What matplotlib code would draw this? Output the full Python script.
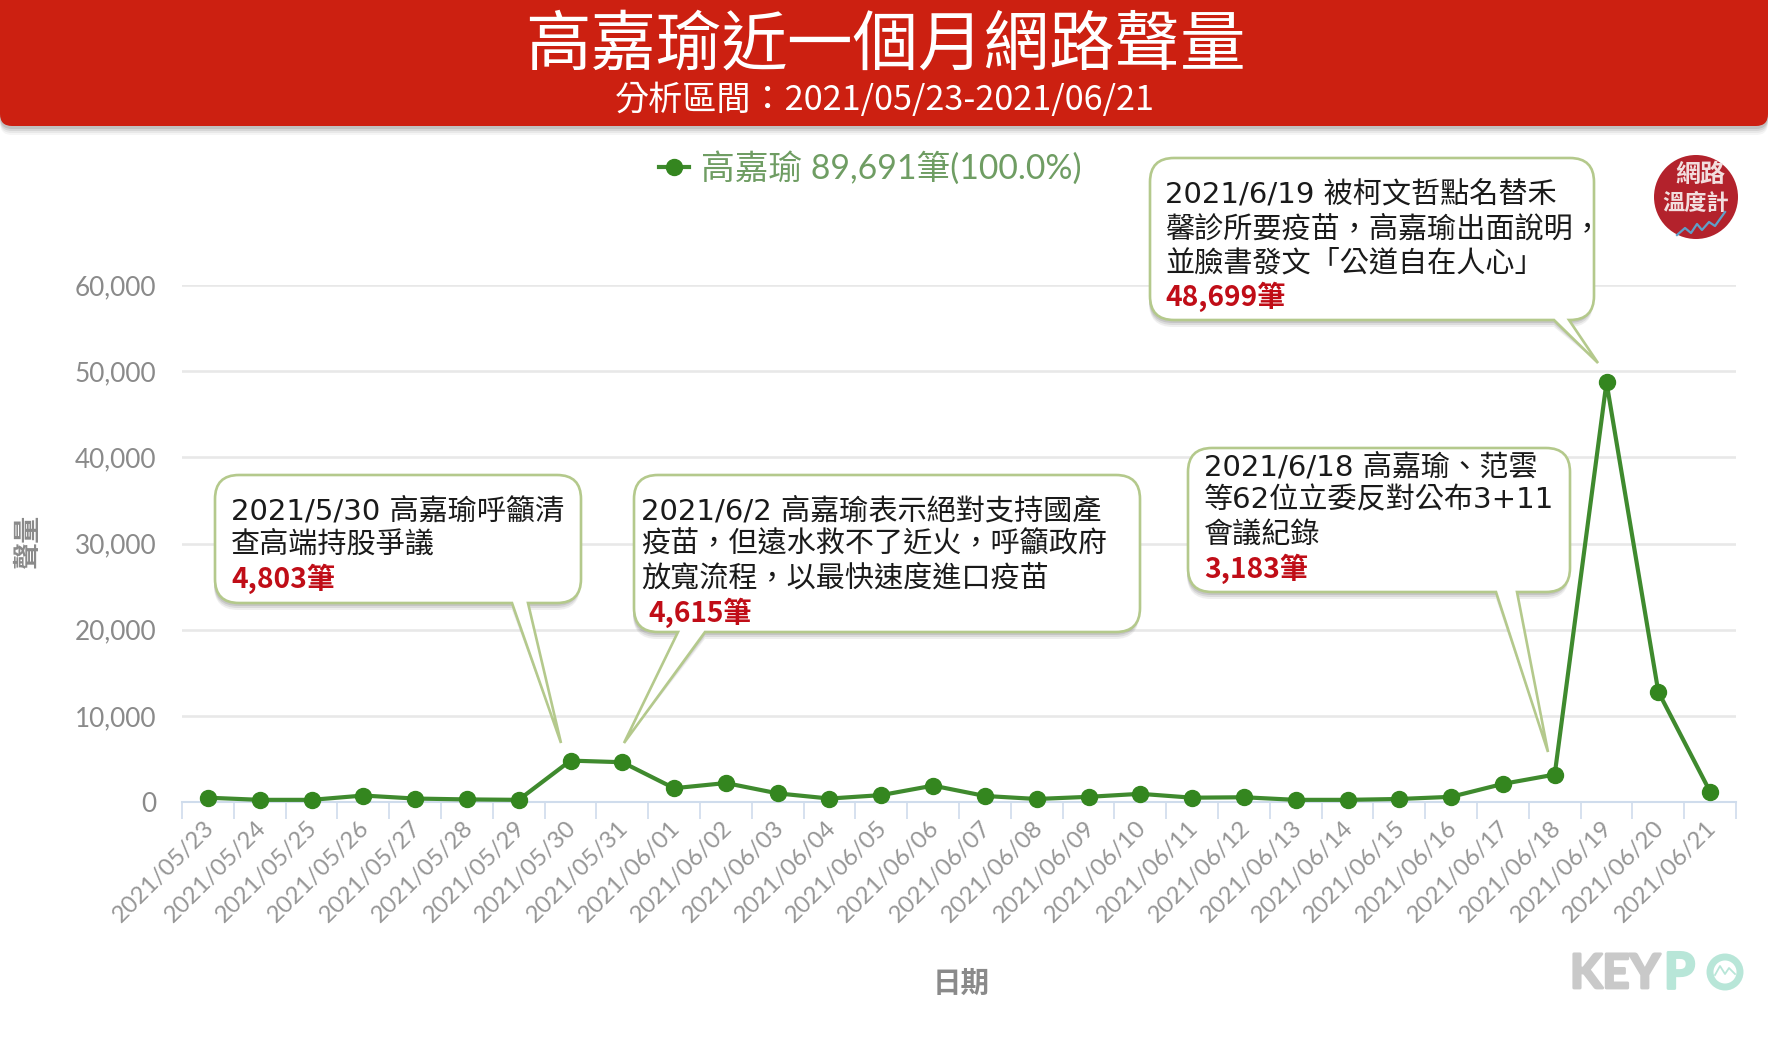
import matplotlib
matplotlib.use("Agg")
import matplotlib.pyplot as plt
import matplotlib.patheffects as pe
from matplotlib.path import Path
from matplotlib.patches import PathPatch, FancyBboxPatch, Circle

plt.rcParams['font.family'] = ['Noto Sans CJK TC', 'DejaVu Sans']

W, H = 1768, 1038
CJK = ['Noto Sans CJK TC', 'DejaVu Sans']
NOTE = ['DejaVu Sans', 'Noto Sans CJK TC']
CHART = ['Lato', 'Noto Sans CJK TC']

title = "高嘉瑜近一個月網路聲量"
subtitle = "分析區間：2021/05/23-2021/06/21"
series_label = "高嘉瑜 89,691筆(100.0%)"
x_title = "日期"
y_title = "聲量"

dates = ["2021/05/23", "2021/05/24", "2021/05/25", "2021/05/26", "2021/05/27",
         "2021/05/28", "2021/05/29", "2021/05/30", "2021/05/31", "2021/06/01",
         "2021/06/02", "2021/06/03", "2021/06/04", "2021/06/05", "2021/06/06",
         "2021/06/07", "2021/06/08", "2021/06/09", "2021/06/10", "2021/06/11",
         "2021/06/12", "2021/06/13", "2021/06/14", "2021/06/15", "2021/06/16",
         "2021/06/17", "2021/06/18", "2021/06/19", "2021/06/20", "2021/06/21"]
counts = [500, 250, 250, 750, 400, 300, 250, 4803, 4615, 1600,
          2200, 1000, 400, 800, 1900, 700, 350, 600, 950, 500,
          550, 250, 250, 350, 600, 2100, 3183, 48699, 12800, 1200]
y_ticks = [0, 10000, 20000, 30000, 40000, 50000, 60000]

note1_lines = ["2021/5/30 高嘉瑜呼籲清", "查高端持股爭議"]
note1_count = "4,803筆"
note2_lines = ["2021/6/2 高嘉瑜表示絕對支持國產", "疫苗，但遠水救不了近火，呼籲政府", "放寬流程，以最快速度進口疫苗"]
note2_count = "4,615筆"
note3_lines = ["2021/6/18 高嘉瑜、范雲", "等62位立委反對公布3+11", "會議紀錄"]
note3_count = "3,183筆"
note4_lines = ["2021/6/19 被柯文哲點名替禾", "馨診所要疫苗，高嘉瑜出面說明，", "並臉書發文「公道自在人心」"]
note4_count = "48,699筆"

fig = plt.figure(figsize=(W / 100, H / 100), dpi=100, facecolor='white')

# ---------- chart ----------
L, R, T, B = 182, 1736, 285, 802
ax = fig.add_axes([L / W, 1 - B / H, (R - L) / W, (B - T) / H])
xs = list(range(len(dates)))
ax.set_xlim(-0.5, len(dates) - 0.5)
ax.set_ylim(0, 60000)
ax.set_yticks(y_ticks)
ax.set_yticklabels([f"{v:,}" for v in y_ticks], family=CHART, fontsize=18.8, color='#8a8a8a')
ax.set_xticks([i - 0.5 for i in range(len(dates) + 1)])
ax.set_xticklabels([])
ax.tick_params(axis='x', length=12, width=1.2, color='#cfdcec')
ax.tick_params(axis='y', length=0, pad=18.5)
ax.grid(axis='y', color='#e8e8e8', lw=1.9)
ax.grid(axis='x', visible=False)
ax.set_axisbelow(True)
for s in ['top', 'right', 'left']:
    ax.spines[s].set_visible(False)
ax.spines['bottom'].set_color('#cfdcec')
ax.spines['bottom'].set_linewidth(1.5)
line, = ax.plot(xs, counts, color='#3f8a2e', lw=3, marker='o', ms=11.5,
                mfc='#34861f', mec='#34861f', clip_on=False, zorder=3)

for x, d in zip(xs, dates):
    ax.annotate(d, xy=(x, 0), xycoords='data', xytext=(2, -16), textcoords='offset points',
                rotation=45, rotation_mode='anchor', ha='right', va='center',
                family=CHART, fontsize=17.3, color='#969696')

leg = ax.legend([line], [series_label], loc='center left', frameon=False,
                bbox_to_anchor=(629 / W, 1 - 168 / H), bbox_transform=fig.transFigure,
                prop={'family': CHART, 'size': 24.3}, labelcolor='#6f9d63',
                handlelength=0.88, handletextpad=0.35, markerscale=1.0)

# ---------- overlay in pixel coordinates ----------
ov = fig.add_axes([0, 0, 1, 1], facecolor='none')
ov.set_xlim(0, W)
ov.set_ylim(H, 0)
ov.axis('off')

# header band
for off, a in [(9, .06), (7, .08), (5, .12), (3, .16)]:
    ov.add_patch(FancyBboxPatch((0, -40), W, 166 + off, boxstyle="round,pad=0,rounding_size=12",
                                fc='#555555', ec='none', alpha=a, zorder=1))
ov.add_patch(FancyBboxPatch((0, -40), W, 166, boxstyle="round,pad=0,rounding_size=12",
                            fc='#cc2011', ec='none', zorder=2))
ov.text(885, 46, title, ha='center', va='center', color='white', fontsize=47.2, family=CJK, zorder=3)
ov.text(885, 101, subtitle, ha='center', va='center', color='white', fontsize=24.6, family=CJK, zorder=3)

ov.text(28, 541, y_title, rotation=90, ha='center', va='center', color='#8a8a8a',
        fontsize=19.5, fontweight='bold', family=CJK)
ov.text(961, 984, x_title, ha='center', va='center', color='#8a8a8a',
        fontsize=20.5, fontweight='bold', family=CJK)


def callout_path(x0, y0, x1, y1, t0, t1, tip, r=24):
    M, LN, C, Z = Path.MOVETO, Path.LINETO, Path.CURVE3, Path.CLOSEPOLY
    v = [(x0 + r, y0), (x1 - r, y0), (x1, y0), (x1, y0 + r), (x1, y1 - r), (x1, y1), (x1 - r, y1),
         (t1, y1), tip, (t0, y1), (x0 + r, y1), (x0, y1), (x0, y1 - r), (x0, y0 + r), (x0, y0),
         (x0 + r, y0), (x0 + r, y0)]
    c = [M, LN, C, C, LN, C, C, LN, LN, LN, LN, C, C, LN, C, C, Z]
    return Path(v, c)


def callout(box, tail, tip, tx, ys, lines, count, cx=None):
    x0, y0, x1, y1 = box
    p = callout_path(x0, y0, x1, y1, tail[0], tail[1], tip)
    for (dx, dy, a) in [(-1, 7, .10), (-1, 5, .14), (-1, 3, .18)]:
        q = callout_path(x0 + dx, y0 + dy, x1 + dx, y1 + dy, tail[0], tail[1], tip)
        ov.add_patch(PathPatch(q, fc='#666666', ec='none', alpha=a, zorder=4))
    ov.add_patch(PathPatch(p, fc='white', ec='#b4c98c', lw=1.9, zorder=5))
    for y, s in zip(ys, lines):
        ov.text(tx, y, s, ha='left', va='center', color='#1a1a1a', fontsize=21, family=NOTE, zorder=6)
    ov.text(cx if cx else tx, ys[len(lines)], count, ha='left', va='center', color='#c00d17',
            fontsize=20.3, fontweight='bold', family=CJK, zorder=6)


callout((215, 475, 581, 603), (512, 528), (561, 743), 231, [511, 545, 579], note1_lines, note1_count)
callout((634, 475, 1140, 632), (678, 705), (624, 743), 641, [511, 545, 579, 613], note2_lines, note2_count, cx=648)
callout((1188, 448, 1570, 592), (1496, 1517), (1548, 752), 1204, [468, 500, 535, 569], note3_lines, note3_count)
callout((1150, 158, 1594, 320), (1554, 1569), (1598, 363), 1165, [195, 230, 264, 297], note4_lines, note4_count)

# badge
ov.add_patch(Circle((1696, 197), 42, fc='#b3222c', ec='none', zorder=5))
ov.text(1700, 175, "網路", ha='center', va='center', color='#f2dede', fontsize=18, fontweight='bold', family=CJK, zorder=6)
ov.text(1696, 203, "溫度計", ha='center', va='center', color='#f2dede', fontsize=16, fontweight='bold', family=CJK, zorder=6)
ov.plot([1677, 1685, 1691, 1697, 1702, 1709, 1715, 1725], [235, 228, 233, 224, 230, 222, 226, 212],
        color='#5f9fc8', lw=1.6, zorder=6)

# KEYPO wordmark
stroke_g = [pe.withStroke(linewidth=2, foreground='#c9c9c9')]
stroke_m = [pe.withStroke(linewidth=2, foreground='#b8e6d8')]
ov.text(1570, 974, "KEY", ha='left', va='center', color='#c9c9c9', fontsize=34, fontweight='bold',
        family=['Lato'], path_effects=stroke_g)
ov.text(1664, 974, "P", ha='left', va='center', color='#b8e6d8', fontsize=36, fontweight='bold',
        family=['Lato'], path_effects=stroke_m)
ov.add_patch(Circle((1725, 972), 15, fc='none', ec='#b8e6d8', lw=5))
ov.plot([1715, 1720, 1725, 1729, 1735], [975, 966, 974, 968, 974], color='#b8e6d8', lw=1.3)

fig.savefig("out.png", dpi=100, facecolor='white')
